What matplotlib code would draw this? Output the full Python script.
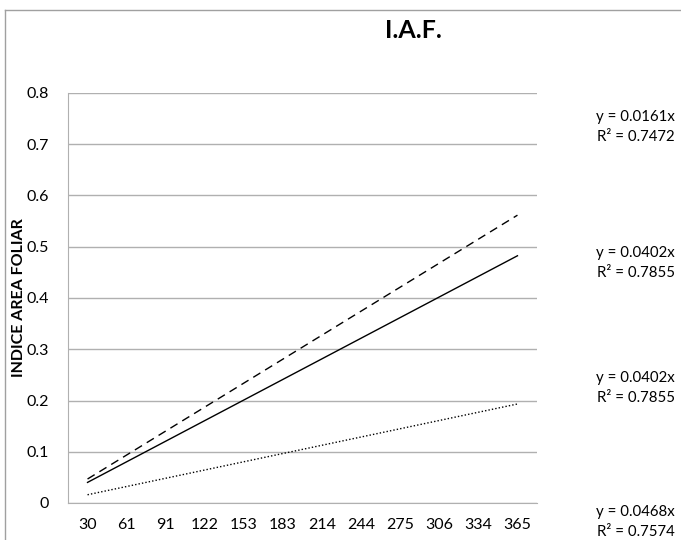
import matplotlib.pyplot as plt
import numpy as np

plt.rcParams['font.family'] = ['Lato', 'DejaVu Sans']

days = ['30', '61', '91', '122', '153', '183', '214', '244', '275', '306', '334', '365']
slopes = [0.0468, 0.0402, 0.0161]          # trendline y = a*x
styles = [(0, (6, 4)), '-', (0, (1, 1.5))]
eq_labels = [('0.0161', '0.7472'), ('0.0402', '0.7855'),
             ('0.0402', '0.7855'), ('0.0468', '0.7574')]
label_y = [0.733, 0.468, 0.224, -0.038]

fig = plt.figure(figsize=(6.81, 5.40), dpi=100)
ax = fig.add_axes([68 / 681, 1 - 503 / 540, 469 / 681, 410 / 540])

idx = np.arange(1, len(days) + 1)
for a, ls in zip(slopes, styles):
    ax.plot(idx - 1, a * idx, color='black', linestyle=ls, linewidth=1)

ax.set_xlim(-0.5, len(days) - 0.5)
ax.set_ylim(0, 0.8)
ax.set_xticks(range(len(days)))
ax.set_xticklabels(days)
ax.set_yticks(np.arange(0, 0.81, 0.1))
ax.set_yticklabels(['0'] + ['%.1f' % v for v in np.arange(0.1, 0.81, 0.1)])
ax.tick_params(length=0, labelsize=11.5, pad=11)
ax.tick_params(axis='y', pad=14)
ax.yaxis.grid(True, color='#b0b0b0', linewidth=1)
ax.set_axisbelow(True)
for s in ['top', 'right']:
    ax.spines[s].set_visible(False)
for s in ['left', 'bottom']:
    ax.spines[s].set_color('#b0b0b0')

ax.set_ylabel('INDICE AREA FOLIAR', fontsize=11.5, fontweight='bold')
ax.yaxis.set_label_coords(-0.090, 0.5)

fig.text(413 / 681, 1 - 30 / 540, 'I.A.F.', fontsize=18, fontweight='bold',
         ha='center', va='center')

for (a, r), yv in zip(eq_labels, label_y):
    ax.text(1.294, yv, 'y = %sx\nR² = %s' % (a, r), transform=ax.get_yaxis_transform(),
            ha='right', va='center', fontsize=10.8, linespacing=1.55)

# outer frame like the chart border
fig.add_artist(plt.Line2D([5 / 681, 1], [1 - 10 / 540, 1 - 10 / 540],
                          transform=fig.transFigure, color='#a0a0a0', linewidth=1))
fig.add_artist(plt.Line2D([5 / 681, 5 / 681], [0, 1 - 10 / 540],
                          transform=fig.transFigure, color='#a0a0a0', linewidth=1))

fig.savefig('out.png', dpi=100)
